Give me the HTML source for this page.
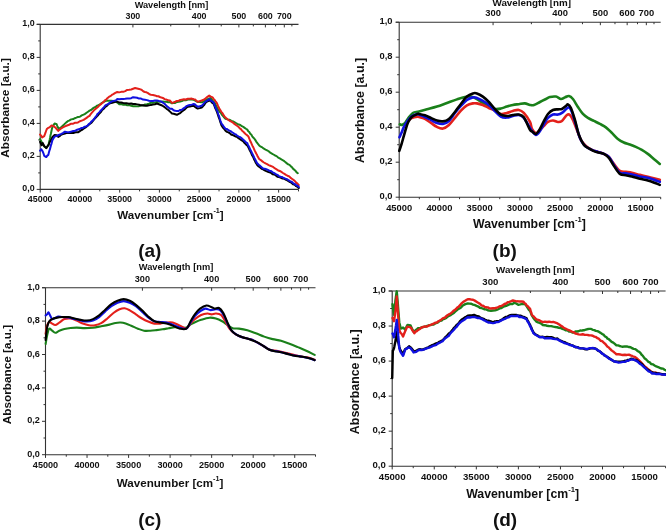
<!DOCTYPE html>
<html><head><meta charset="utf-8"><style>
html,body{margin:0;padding:0;background:#fff;}
svg{display:block;filter:blur(0.3px);font-family:"Liberation Sans",sans-serif;font-weight:bold;}
</style></head><body>
<svg width="666" height="531" viewBox="0 0 666 531">
<rect width="666" height="531" fill="#fff"/>
<path d="M40.20 24.40V189.40M39.70 189.40H298.50M36.70 24.40H298.50" stroke="#333" stroke-width="1.1" fill="none"/>
<path d="M36.70 189.40H40.20M38.20 172.90H40.20M36.70 156.40H40.20M38.20 139.90H40.20M36.70 123.40H40.20M38.20 106.90H40.20M36.70 90.40H40.20M38.20 73.90H40.20M36.70 57.40H40.20M38.20 40.90H40.20M36.70 24.40H40.20M40.20 189.40V192.60M60.07 189.40V191.40M79.94 189.40V192.60M99.81 189.40V191.40M119.68 189.40V192.60M139.55 189.40V191.40M159.42 189.40V192.60M179.28 189.40V191.40M199.15 189.40V192.60M219.02 189.40V191.40M238.89 189.40V192.60M258.76 189.40V191.40M278.63 189.40V192.60M298.50 189.40V191.40M132.92 24.40V27.40M170.77 24.40V26.40M199.15 24.40V27.40M221.23 24.40V26.40M238.89 24.40V27.40M253.34 24.40V26.40M265.38 24.40V27.40M275.57 24.40V26.40M284.31 24.40V27.40M291.88 24.40V26.40" stroke="#333" stroke-width="1" fill="none"/>
<g font-size="8.9" fill="#111"><text x="34.60" y="191.40" text-anchor="end">0,0</text><text x="34.60" y="158.40" text-anchor="end">0,2</text><text x="34.60" y="125.40" text-anchor="end">0,4</text><text x="34.60" y="92.40" text-anchor="end">0,6</text><text x="34.60" y="59.40" text-anchor="end">0,8</text><text x="34.60" y="26.40" text-anchor="end">1,0</text><text x="40.20" y="202.00" text-anchor="middle">45000</text><text x="79.94" y="202.00" text-anchor="middle">40000</text><text x="119.68" y="202.00" text-anchor="middle">35000</text><text x="159.42" y="202.00" text-anchor="middle">30000</text><text x="199.15" y="202.00" text-anchor="middle">25000</text><text x="238.89" y="202.00" text-anchor="middle">20000</text><text x="278.63" y="202.00" text-anchor="middle">15000</text><text x="132.92" y="18.90" text-anchor="middle">300</text><text x="199.15" y="18.90" text-anchor="middle">400</text><text x="238.89" y="18.90" text-anchor="middle">500</text><text x="265.38" y="18.90" text-anchor="middle">600</text><text x="284.31" y="18.90" text-anchor="middle">700</text></g>
<text x="171.50" y="7.80" font-size="9.2" text-anchor="middle" fill="#111">Wavelength [nm]</text>
<text x="117.20" y="218.60" font-size="11.6" fill="#111">Wavenumber [cm<tspan font-size="7.19" dy="-5.80">-1</tspan><tspan dy="5.80">]</tspan></text>
<text transform="translate(8.70 108.00) rotate(-90)" font-size="11.8" text-anchor="middle" fill="#111">Absorbance [a.u.]</text>
<text x="138.20" y="257.30" font-size="19" fill="#111">(a)</text>
<path d="M399.20 22.20V197.20M398.70 197.20H660.70M395.70 22.20H660.70" stroke="#333" stroke-width="1.1" fill="none"/>
<path d="M395.70 197.20H399.20M397.20 179.70H399.20M395.70 162.20H399.20M397.20 144.70H399.20M395.70 127.20H399.20M397.20 109.70H399.20M395.70 92.20H399.20M397.20 74.70H399.20M395.70 57.20H399.20M397.20 39.70H399.20M395.70 22.20H399.20M399.20 197.20V200.40M419.32 197.20V199.20M439.43 197.20V200.40M459.55 197.20V199.20M479.66 197.20V200.40M499.78 197.20V199.20M519.89 197.20V200.40M540.01 197.20V199.20M560.12 197.20V200.40M580.24 197.20V199.20M600.35 197.20V200.40M620.47 197.20V199.20M640.58 197.20V200.40M660.70 197.20V199.20M493.07 22.20V25.20M531.39 22.20V24.20M560.12 22.20V25.20M582.47 22.20V24.20M600.35 22.20V25.20M614.98 22.20V24.20M627.17 22.20V25.20M637.49 22.20V24.20M646.33 22.20V25.20M653.99 22.20V24.20" stroke="#333" stroke-width="1" fill="none"/>
<g font-size="9.4" fill="#111"><text x="392.60" y="199.38" text-anchor="end">0,0</text><text x="392.60" y="164.38" text-anchor="end">0,2</text><text x="392.60" y="129.38" text-anchor="end">0,4</text><text x="392.60" y="94.38" text-anchor="end">0,6</text><text x="392.60" y="59.38" text-anchor="end">0,8</text><text x="392.60" y="24.38" text-anchor="end">1,0</text><text x="399.20" y="210.50" text-anchor="middle">45000</text><text x="439.43" y="210.50" text-anchor="middle">40000</text><text x="479.66" y="210.50" text-anchor="middle">35000</text><text x="519.89" y="210.50" text-anchor="middle">30000</text><text x="560.12" y="210.50" text-anchor="middle">25000</text><text x="600.35" y="210.50" text-anchor="middle">20000</text><text x="640.58" y="210.50" text-anchor="middle">15000</text><text x="493.07" y="16.40" text-anchor="middle">300</text><text x="560.12" y="16.40" text-anchor="middle">400</text><text x="600.35" y="16.40" text-anchor="middle">500</text><text x="627.17" y="16.40" text-anchor="middle">600</text><text x="646.33" y="16.40" text-anchor="middle">700</text></g>
<text x="531.80" y="5.90" font-size="9.8" text-anchor="middle" fill="#111">Wavelength [nm]</text>
<text x="473.00" y="228.40" font-size="12.3" fill="#111">Wavenumber [cm<tspan font-size="7.63" dy="-6.15">-1</tspan><tspan dy="6.15">]</tspan></text>
<text transform="translate(363.80 110.40) rotate(-90)" font-size="12.45" text-anchor="middle" fill="#111">Absorbance [a.u.]</text>
<text x="492.60" y="257.20" font-size="19" fill="#111">(b)</text>
<path d="M45.50 287.70V454.70M45.00 454.70H315.50M42.00 287.70H315.50" stroke="#333" stroke-width="1.1" fill="none"/>
<path d="M42.00 454.70H45.50M43.50 438.00H45.50M42.00 421.30H45.50M43.50 404.60H45.50M42.00 387.90H45.50M43.50 371.20H45.50M42.00 354.50H45.50M43.50 337.80H45.50M42.00 321.10H45.50M43.50 304.40H45.50M42.00 287.70H45.50M45.50 454.70V457.90M66.27 454.70V456.70M87.04 454.70V457.90M107.81 454.70V456.70M128.58 454.70V457.90M149.35 454.70V456.70M170.12 454.70V457.90M190.88 454.70V456.70M211.65 454.70V457.90M232.42 454.70V456.70M253.19 454.70V457.90M273.96 454.70V456.70M294.73 454.70V457.90M315.50 454.70V456.70M142.42 287.70V290.70M181.98 287.70V289.70M211.65 287.70V290.70M234.73 287.70V289.70M253.19 287.70V290.70M268.30 287.70V289.70M280.88 287.70V290.70M291.54 287.70V289.70M300.66 287.70V290.70M308.58 287.70V289.70" stroke="#333" stroke-width="1" fill="none"/>
<g font-size="9.1" fill="#111"><text x="39.80" y="456.78" text-anchor="end">0,0</text><text x="39.80" y="423.38" text-anchor="end">0,2</text><text x="39.80" y="389.98" text-anchor="end">0,4</text><text x="39.80" y="356.58" text-anchor="end">0,6</text><text x="39.80" y="323.18" text-anchor="end">0,8</text><text x="39.80" y="289.78" text-anchor="end">1,0</text><text x="45.50" y="468.00" text-anchor="middle">45000</text><text x="87.04" y="468.00" text-anchor="middle">40000</text><text x="128.58" y="468.00" text-anchor="middle">35000</text><text x="170.12" y="468.00" text-anchor="middle">30000</text><text x="211.65" y="468.00" text-anchor="middle">25000</text><text x="253.19" y="468.00" text-anchor="middle">20000</text><text x="294.73" y="468.00" text-anchor="middle">15000</text><text x="142.42" y="282.20" text-anchor="middle">300</text><text x="211.65" y="282.20" text-anchor="middle">400</text><text x="253.19" y="282.20" text-anchor="middle">500</text><text x="280.88" y="282.20" text-anchor="middle">600</text><text x="300.66" y="282.20" text-anchor="middle">700</text></g>
<text x="176.00" y="270.20" font-size="9.3" text-anchor="middle" fill="#111">Wavelength [nm]</text>
<text x="116.80" y="487.00" font-size="11.6" fill="#111">Wavenumber [cm<tspan font-size="7.19" dy="-5.80">-1</tspan><tspan dy="5.80">]</tspan></text>
<text transform="translate(10.90 374.50) rotate(-90)" font-size="11.75" text-anchor="middle" fill="#111">Absorbance [a.u.]</text>
<text x="138.20" y="526.10" font-size="19" fill="#111">(c)</text>
<path d="M392.20 291.00V466.20M391.70 466.20H665.60M388.70 291.00H665.60" stroke="#333" stroke-width="1.1" fill="none"/>
<path d="M388.70 466.20H392.20M390.20 448.68H392.20M388.70 431.16H392.20M390.20 413.64H392.20M388.70 396.12H392.20M390.20 378.60H392.20M388.70 361.08H392.20M390.20 343.56H392.20M388.70 326.04H392.20M390.20 308.52H392.20M388.70 291.00H392.20M392.20 466.20V469.40M413.23 466.20V468.20M434.26 466.20V469.40M455.29 466.20V468.20M476.32 466.20V469.40M497.35 466.20V468.20M518.38 466.20V469.40M539.42 466.20V468.20M560.45 466.20V469.40M581.48 466.20V468.20M602.51 466.20V469.40M623.54 466.20V468.20M644.57 466.20V469.40M665.60 466.20V468.20M490.34 291.00V294.00M530.40 291.00V293.00M560.45 291.00V294.00M583.81 291.00V293.00M602.51 291.00V294.00M617.80 291.00V293.00M630.55 291.00V294.00M641.33 291.00V293.00M650.58 291.00V294.00M658.59 291.00V293.00" stroke="#333" stroke-width="1" fill="none"/>
<g font-size="9.6" fill="#111"><text x="385.80" y="468.46" text-anchor="end">0,0</text><text x="385.80" y="433.42" text-anchor="end">0,2</text><text x="385.80" y="398.38" text-anchor="end">0,4</text><text x="385.80" y="363.34" text-anchor="end">0,6</text><text x="385.80" y="328.30" text-anchor="end">0,8</text><text x="385.80" y="293.26" text-anchor="end">1,0</text><text x="392.20" y="480.10" text-anchor="middle">45000</text><text x="434.26" y="480.10" text-anchor="middle">40000</text><text x="476.32" y="480.10" text-anchor="middle">35000</text><text x="518.38" y="480.10" text-anchor="middle">30000</text><text x="560.45" y="480.10" text-anchor="middle">25000</text><text x="602.51" y="480.10" text-anchor="middle">20000</text><text x="644.57" y="480.10" text-anchor="middle">15000</text><text x="490.34" y="284.70" text-anchor="middle">300</text><text x="560.45" y="284.70" text-anchor="middle">400</text><text x="602.51" y="284.70" text-anchor="middle">500</text><text x="630.55" y="284.70" text-anchor="middle">600</text><text x="650.58" y="284.70" text-anchor="middle">700</text></g>
<text x="535.30" y="272.60" font-size="9.8" text-anchor="middle" fill="#111">Wavelength [nm]</text>
<text x="466.20" y="498.00" font-size="12.3" fill="#111">Wavenumber [cm<tspan font-size="7.63" dy="-6.15">-1</tspan><tspan dy="6.15">]</tspan></text>
<text transform="translate(359.00 381.80) rotate(-90)" font-size="12.4" text-anchor="middle" fill="#111">Absorbance [a.u.]</text>
<text x="492.90" y="526.10" font-size="19" fill="#111">(d)</text>
<polyline points="40.07,139.16 41.11,140.84 42.15,142.91 43.18,144.85 44.22,146.54 46.29,148.02 47.33,146.60 48.36,145.15 48.78,143.50 49.19,141.58 49.61,139.90 50.02,137.94 50.44,135.61 50.85,133.98 51.26,131.93 51.68,130.01 52.09,128.30 52.51,126.79 53.54,125.12 54.58,123.41 56.65,124.23 57.34,126.07 58.03,127.53 58.73,128.94 60.80,127.52 62.18,126.40 63.56,125.09 64.94,123.64 66.32,122.36 67.71,121.21 69.09,120.60 71.16,119.37 73.23,119.11 74.82,118.20 76.41,117.66 78.00,116.95 79.86,116.71 81.72,115.41 83.59,114.64 85.07,113.86 86.56,112.77 88.05,111.72 89.53,110.68 91.02,110.04 92.50,108.66 93.99,107.65 95.48,106.97 96.96,105.62 98.45,105.09 99.94,104.39 101.42,103.19 103.08,102.30 104.73,101.37 106.38,100.78 108.03,100.87 109.68,100.87 111.33,100.84 113.32,100.97 115.30,101.67 117.28,102.50 119.26,104.14 121.24,104.06 123.23,104.71 125.21,104.65 127.19,105.26 129.17,105.17 131.15,105.83 133.14,106.19 135.12,106.16 137.10,106.37 139.08,106.17 141.06,105.44 143.05,105.55 145.03,104.47 147.01,104.22 148.99,103.64 150.97,102.77 152.95,102.77 154.94,102.56 156.92,101.90 158.90,101.63 160.88,101.74 162.71,101.61 164.53,101.80 166.35,101.73 168.18,102.21 170.00,102.09 171.96,103.37 173.62,102.80 175.27,102.89 176.92,101.97 178.57,101.65 180.22,101.46 181.87,101.11 183.86,100.19 185.84,100.25 187.82,99.47 189.80,99.56 191.78,99.61 193.77,99.82 195.75,100.93 197.73,102.12 199.38,101.82 201.03,102.23 202.68,101.98 204.34,101.09 205.99,99.79 207.64,99.16 210.61,98.05 211.93,99.62 213.26,101.41 214.58,102.78 215.40,104.20 216.23,105.89 217.05,107.37 217.88,109.04 218.71,110.13 219.53,111.78 220.72,112.81 221.91,114.83 223.10,116.08 224.29,117.51 225.48,118.77 227.46,119.37 229.44,119.69 231.42,120.83 232.91,121.31 234.40,122.12 235.88,123.01 237.37,123.88 238.86,124.57 240.34,125.01 241.83,126.21 243.32,126.91 244.64,127.84 245.96,128.77 247.28,129.65 248.27,131.21 249.26,131.98 250.25,133.79 251.24,134.59 252.23,136.34 253.23,137.62 254.22,138.50 255.21,139.89 256.20,141.53 257.19,142.86 258.18,144.22 259.17,145.46 260.76,146.70 262.34,147.40 263.93,148.71 265.51,149.59 267.10,150.34 268.68,151.25 270.27,152.71 271.86,153.58 273.44,154.51 275.03,155.47 276.61,156.10 278.20,157.65 279.78,158.45 281.37,159.46 282.95,160.29 284.28,161.19 285.60,162.19 286.92,163.39 288.24,164.34 289.56,164.94 290.88,166.37 292.04,167.29 293.20,168.88 294.35,169.86 295.51,170.79 296.66,172.35 297.82,173.19" stroke="#1a801a" stroke-width="2.0" fill="none" stroke-linejoin="round" stroke-linecap="round"/>
<polyline points="40.07,134.45 41.11,135.57 42.15,137.52 44.22,136.06 44.87,134.38 45.51,132.72 46.16,130.76 46.81,129.09 48.10,127.95 49.40,127.38 51.47,125.54 53.54,126.17 55.62,127.75 56.91,129.34 58.21,130.87 59.50,129.73 60.80,128.71 62.87,127.43 64.94,126.36 67.02,125.50 69.09,124.76 71.16,123.68 73.23,123.65 74.82,122.84 76.41,122.64 78.00,122.44 79.86,121.26 81.72,120.57 83.59,119.86 85.07,118.90 86.56,117.88 88.05,116.67 89.53,115.86 90.72,114.04 91.91,112.67 93.10,111.42 94.29,109.98 95.48,108.96 96.96,107.72 98.45,106.43 99.94,104.86 101.42,103.86 102.61,102.60 103.80,101.73 104.99,100.26 106.18,99.72 107.37,98.21 108.86,96.95 110.34,96.17 111.83,94.99 113.32,94.19 115.30,92.93 117.28,91.99 119.26,92.36 121.24,91.85 123.23,91.85 125.21,91.10 127.19,89.93 129.17,89.83 131.15,89.46 133.14,88.73 135.12,88.02 137.10,88.50 139.08,88.96 140.57,89.39 142.05,90.24 143.54,91.48 145.03,92.03 146.51,92.35 148.00,93.12 149.49,94.31 150.97,94.74 152.95,94.93 154.94,95.44 156.92,96.20 158.41,96.26 159.89,96.98 161.38,97.57 162.86,97.93 164.65,99.11 166.43,99.59 168.22,100.28 170.00,100.58 171.96,102.80 173.62,102.44 175.27,101.75 176.92,100.94 178.57,100.84 180.22,99.96 181.87,99.62 183.86,99.26 185.84,99.46 187.82,98.82 189.80,98.71 191.78,98.60 193.77,99.17 195.09,99.51 196.41,100.68 197.73,101.79 199.71,101.09 201.69,100.55 203.68,99.77 205.66,98.36 207.44,96.86 209.23,95.57 210.91,96.58 212.59,97.42 213.59,98.89 214.58,99.85 215.57,101.26 216.56,102.58 217.35,104.11 218.14,106.05 218.94,107.76 219.73,109.36 220.52,110.42 221.51,112.06 222.50,113.21 223.50,114.86 224.49,116.32 225.48,117.54 226.96,118.72 228.45,119.98 229.94,121.01 231.42,121.70 232.91,122.60 234.40,123.88 235.88,124.93 237.37,126.06 238.56,126.92 239.75,128.36 240.94,129.15 242.13,130.77 243.32,131.69 244.55,133.12 245.79,134.22 247.03,135.13 248.27,136.21 248.98,137.96 249.69,139.62 250.39,141.39 251.10,142.57 251.81,144.30 252.52,145.97 253.23,147.14 253.97,148.80 254.71,150.63 255.45,151.95 256.20,153.51 256.94,154.73 257.68,156.55 258.43,157.67 259.17,159.03 260.76,160.08 262.34,161.39 263.93,162.50 265.51,163.43 267.10,164.21 268.68,165.13 270.27,165.76 271.86,166.39 273.44,167.22 275.03,168.48 276.61,169.37 278.20,170.46 279.78,170.95 281.37,171.93 282.95,173.00 284.44,173.88 285.93,174.86 287.41,175.72 288.90,176.17 290.39,177.59 291.87,178.69 293.36,179.75 294.85,181.00 296.17,182.70 297.49,183.60 298.81,185.08" stroke="#e3201b" stroke-width="2.0" fill="none" stroke-linejoin="round" stroke-linecap="round"/>
<polyline points="40.07,141.88 40.85,143.65 41.63,145.24 42.66,142.98 44.22,146.03 46.29,148.14 47.33,146.42 48.36,145.28 49.40,142.86 50.44,140.88 51.47,139.17 52.51,136.88 54.58,134.91 56.65,135.15 58.21,136.94 59.50,136.16 60.80,134.95 62.87,134.00 64.94,133.49 67.02,132.91 69.09,132.90 71.16,132.71 73.23,132.93 75.62,132.21 78.00,132.35 79.51,131.41 81.03,130.24 82.54,129.51 84.05,128.26 85.57,127.41 87.05,126.20 88.54,124.93 90.03,123.75 91.51,122.61 92.70,121.07 93.89,119.54 95.08,118.37 96.27,117.08 97.46,115.89 98.65,114.40 99.84,113.17 101.03,111.80 102.22,110.00 103.41,109.06 104.89,107.29 106.38,106.25 107.86,104.74 109.35,103.54 110.84,102.99 112.32,102.67 113.81,102.32 115.30,101.76 117.28,101.65 119.26,102.62 121.24,102.59 123.23,103.02 125.21,103.26 127.19,103.37 129.17,103.84 131.15,103.42 133.14,104.01 135.12,104.10 137.10,104.37 139.08,104.70 141.06,105.37 143.05,105.28 145.03,105.78 147.01,105.64 148.99,105.36 150.97,104.90 152.95,104.51 154.94,104.21 156.92,103.48 158.90,104.24 160.88,105.01 162.86,105.96 164.29,106.92 165.72,108.04 167.15,109.29 168.57,110.28 170.00,111.64 171.96,113.49 173.62,113.75 175.27,114.27 176.92,114.78 178.57,113.92 180.22,113.03 181.87,111.46 183.36,110.33 184.85,109.36 186.33,107.76 187.82,106.82 189.80,106.62 191.78,105.99 193.77,105.82 195.09,106.99 196.41,107.82 197.73,108.61 199.71,108.11 201.69,107.46 203.02,106.17 204.34,104.71 205.66,102.54 207.64,101.26 209.62,100.32 210.94,101.25 212.26,102.83 213.59,103.76 214.25,105.23 214.91,107.31 215.57,108.72 216.23,110.19 216.89,111.75 217.55,113.75 218.12,115.38 218.68,117.10 219.25,118.54 219.81,120.27 220.38,122.08 220.95,123.67 221.51,125.54 222.83,127.45 224.16,128.84 225.48,130.71 226.96,131.89 228.45,132.40 229.94,133.29 231.42,134.78 232.91,135.04 234.40,135.77 235.88,136.62 237.37,137.17 238.86,138.47 240.34,139.38 241.83,140.37 243.32,141.29 244.64,143.09 245.96,144.39 247.28,145.55 248.07,146.84 248.86,148.38 249.66,150.15 250.45,151.50 251.24,153.15 251.99,155.15 252.73,156.21 253.47,157.66 254.22,159.65 254.96,160.79 255.70,162.64 256.45,163.71 257.19,165.00 258.68,166.45 260.16,167.46 261.65,168.84 263.14,169.36 264.72,170.43 266.31,171.18 267.89,171.76 269.48,172.38 271.06,172.88 272.65,174.27 274.23,174.48 275.82,175.37 277.41,176.70 278.99,177.04 280.58,177.58 282.16,178.51 283.75,178.61 285.33,179.50 286.92,180.06 288.50,181.08 290.09,182.14 291.68,182.90 293.26,184.40 294.85,184.85 296.17,186.20 297.49,186.77 298.81,188.05" stroke="#000000" stroke-width="2.0" fill="none" stroke-linejoin="round" stroke-linecap="round"/>
<polyline points="40.07,150.72 41.11,149.20 42.66,151.38 43.44,153.27 44.22,155.79 46.29,157.06 47.33,155.65 48.36,154.87 48.88,152.45 49.40,150.67 49.92,149.39 50.44,147.20 50.95,145.18 51.47,143.81 51.99,141.66 52.51,140.06 53.54,138.21 54.58,136.60 56.65,135.97 58.73,135.00 60.80,134.09 62.87,133.12 64.94,131.68 67.02,132.13 69.09,132.29 71.16,131.62 73.23,131.00 74.82,130.99 76.41,130.07 78.00,129.52 79.59,129.01 81.18,128.06 82.77,127.99 84.37,126.84 85.96,126.50 87.55,125.65 88.74,124.20 89.93,123.47 91.12,121.84 92.31,120.80 93.50,119.68 94.49,118.43 95.48,116.96 96.47,115.93 97.46,114.08 98.45,113.14 99.44,112.08 100.63,110.66 101.82,109.52 103.01,108.09 104.20,106.90 105.39,105.46 106.87,104.66 108.36,103.79 109.85,102.72 111.33,101.65 112.82,101.10 114.31,100.64 115.79,100.40 117.28,99.11 119.26,99.15 121.24,99.01 123.23,98.96 125.21,98.82 127.19,98.56 129.17,98.48 131.15,98.16 133.14,97.14 135.12,97.44 137.10,97.74 139.08,98.60 141.06,98.56 143.05,99.53 145.03,99.81 147.01,100.13 148.99,100.70 150.97,101.12 152.95,100.97 154.94,100.56 156.92,100.40 158.90,100.95 160.88,101.39 162.86,102.54 164.05,103.54 165.24,104.37 166.43,105.83 167.62,106.73 168.81,107.78 170.00,108.80 171.96,108.85 173.62,110.20 175.27,110.78 176.92,111.01 178.57,111.04 180.22,109.94 181.87,109.82 183.36,108.46 184.85,107.67 186.33,106.17 187.82,105.55 189.80,105.04 191.78,104.64 193.77,104.04 195.09,104.50 196.41,105.92 197.73,106.71 199.71,106.26 201.69,105.73 203.02,104.46 204.34,102.87 205.66,101.61 207.64,100.46 209.62,99.18 210.94,100.86 212.26,101.41 213.59,102.60 214.25,104.17 214.91,106.11 215.57,107.49 216.23,109.00 216.89,110.52 217.55,111.67 218.12,113.77 218.68,115.45 219.25,116.67 219.81,118.71 220.38,120.53 220.95,122.02 221.51,123.51 222.83,125.16 224.16,127.29 225.48,128.74 226.96,129.01 228.45,130.24 229.94,130.81 231.42,131.72 232.91,132.71 234.40,133.85 235.88,134.41 237.37,135.88 238.86,136.68 240.34,137.22 241.83,138.40 243.32,139.80 244.64,141.02 245.96,142.40 247.28,143.18 248.07,145.19 248.86,146.39 249.66,148.11 250.45,150.09 251.24,151.29 251.99,152.99 252.73,154.45 253.47,155.87 254.22,157.63 254.96,159.02 255.70,160.39 256.45,162.05 257.19,163.33 258.68,164.77 260.16,165.86 261.65,167.24 263.14,168.54 264.72,168.76 266.31,169.21 267.89,169.84 269.48,170.94 271.06,171.05 272.65,172.23 274.23,173.20 275.82,174.16 277.41,174.85 278.99,176.26 280.58,176.77 282.16,177.04 283.75,178.00 285.33,178.57 286.92,179.17 288.50,180.26 290.09,181.09 291.68,181.83 293.26,183.34 294.85,183.99 296.17,185.32 297.49,185.75 298.81,187.06" stroke="#1010e0" stroke-width="2.0" fill="none" stroke-linejoin="round" stroke-linecap="round"/>
<path d="M399.82 124.29C400.20 124.39 401.24 125.05 402.08 124.86C402.93 124.67 403.87 124.29 404.91 123.16C405.95 122.03 406.98 119.77 408.30 118.08C409.62 116.38 411.31 114.03 412.82 112.99C414.33 111.96 416.31 112.10 417.34 111.86C418.36 111.63 417.36 111.98 418.97 111.56C420.57 111.14 423.96 110.20 426.95 109.36C429.95 108.53 433.61 107.63 436.94 106.57C440.27 105.50 443.60 104.17 446.92 102.97C450.25 101.77 453.91 100.38 456.91 99.38C459.91 98.38 462.57 97.45 464.90 96.98C467.23 96.52 468.89 96.25 470.89 96.58C472.89 96.92 474.88 97.91 476.88 98.98C478.88 100.04 480.87 101.81 482.87 102.97C484.87 104.14 486.86 104.97 488.86 105.97C490.86 106.97 492.86 108.53 494.85 108.96C496.85 109.40 498.85 108.96 500.84 108.56C502.84 108.17 504.84 107.17 506.83 106.57C508.83 105.97 510.83 105.37 512.83 104.97C514.82 104.57 516.82 104.44 518.82 104.17C520.81 103.90 522.94 103.24 524.81 103.37C526.67 103.51 528.47 104.70 530.00 104.97C531.53 105.24 532.33 105.47 533.99 104.97C535.65 104.47 537.98 102.97 539.98 101.97C541.98 100.98 544.31 99.81 545.97 98.98C547.64 98.15 548.30 97.38 549.97 96.98C551.63 96.58 554.13 96.25 555.96 96.58C557.79 96.92 559.45 98.85 560.95 98.98C562.45 99.11 563.61 97.88 564.94 97.38C566.28 96.88 567.61 95.72 568.94 95.98C570.27 96.25 571.43 97.15 572.93 98.98C574.43 100.81 576.26 104.47 577.92 106.97C579.59 109.46 581.25 112.13 582.92 113.96C584.58 115.79 586.08 116.79 587.91 117.95C589.74 119.12 591.90 119.95 593.90 120.95C595.90 121.94 597.89 122.88 599.89 123.94C601.89 125.01 603.89 125.84 605.88 127.34C607.88 128.83 609.88 131.00 611.87 132.93C613.87 134.86 615.87 137.32 617.86 138.92C619.86 140.52 621.86 141.58 623.86 142.51C625.85 143.45 627.85 143.78 629.85 144.51C631.84 145.24 633.84 146.01 635.84 146.91C637.83 147.81 639.83 148.74 641.83 149.90C643.83 151.07 645.82 152.40 647.82 153.90C649.82 155.39 651.81 157.22 653.81 158.89C655.81 160.55 658.80 163.05 659.80 163.88" stroke="#1a801a" stroke-width="2.6" fill="none" stroke-linejoin="round" stroke-linecap="round"/>
<path d="M409.43 119.77C409.81 119.49 410.37 118.59 411.69 118.08C413.01 117.57 416.13 116.91 417.34 116.72C418.55 116.54 417.70 116.58 418.97 116.95C420.24 117.32 422.96 117.95 424.96 118.95C426.95 119.95 428.95 121.61 430.95 122.94C432.95 124.27 434.94 126.01 436.94 126.94C438.94 127.87 440.93 128.87 442.93 128.53C444.93 128.20 446.92 126.70 448.92 124.94C450.92 123.18 452.92 120.35 454.91 117.95C456.91 115.55 458.91 112.66 460.90 110.56C462.90 108.46 464.90 106.57 466.89 105.37C468.89 104.17 471.22 103.71 472.89 103.37C474.55 103.04 475.22 103.11 476.88 103.37C478.54 103.64 480.87 104.20 482.87 104.97C484.87 105.74 486.86 107.03 488.86 107.97C490.86 108.90 492.86 109.56 494.85 110.56C496.85 111.56 498.85 113.56 500.84 113.96C502.84 114.36 504.84 113.46 506.83 112.96C508.83 112.46 510.83 111.46 512.83 110.96C514.82 110.46 516.99 109.63 518.82 109.96C520.65 110.30 521.95 110.96 523.81 112.96C525.67 114.95 528.64 119.28 530.00 121.94C531.36 124.61 531.00 127.10 531.99 128.93C532.99 130.76 534.66 132.76 535.99 132.93C537.32 133.09 538.65 131.10 539.98 129.93C541.31 128.77 542.64 127.27 543.98 125.94C545.31 124.61 546.47 122.84 547.97 121.94C549.47 121.05 551.30 120.55 552.96 120.55C554.63 120.55 556.46 121.88 557.95 121.94C559.45 122.01 560.45 122.11 561.95 120.95C563.45 119.78 565.61 115.95 566.94 114.95C568.27 113.96 568.94 114.12 569.94 114.95C570.94 115.79 571.77 117.45 572.93 119.95C574.10 122.44 575.60 126.60 576.93 129.93C578.26 133.26 579.42 137.25 580.92 139.92C582.42 142.58 584.08 144.24 585.91 145.91C587.74 147.57 589.91 148.90 591.90 149.90C593.90 150.90 595.90 151.23 597.89 151.90C599.89 152.57 602.06 153.06 603.89 153.90C605.72 154.73 607.21 155.23 608.88 156.89C610.54 158.56 612.04 161.55 613.87 163.88C615.70 166.21 617.86 169.54 619.86 170.87C621.86 172.20 623.86 171.54 625.85 171.87C627.85 172.20 629.51 172.37 631.84 172.87C634.17 173.37 637.17 174.20 639.83 174.86C642.49 175.53 645.16 176.20 647.82 176.86C650.48 177.53 653.81 178.36 655.81 178.86C657.80 179.36 659.14 179.69 659.80 179.86" stroke="#e3201b" stroke-width="2.6" fill="none" stroke-linejoin="round" stroke-linecap="round"/>
<path d="M399.49 137.29C399.82 136.53 400.80 134.46 401.52 132.77C402.24 131.07 402.84 129.00 403.78 127.12C404.72 125.24 405.85 123.26 407.17 121.47C408.49 119.68 409.99 117.61 411.69 116.38C413.38 115.16 416.13 114.43 417.34 114.12C418.55 113.82 417.70 114.08 418.97 114.56C420.24 115.03 422.96 116.05 424.96 116.95C426.95 117.85 428.95 118.95 430.95 119.95C432.95 120.95 434.94 122.28 436.94 122.94C438.94 123.61 440.93 124.27 442.93 123.94C444.93 123.61 446.92 122.78 448.92 120.95C450.92 119.12 452.92 115.45 454.91 112.96C456.91 110.46 458.91 108.13 460.90 105.97C462.90 103.81 464.90 101.41 466.89 99.98C468.89 98.55 471.22 97.71 472.89 97.38C474.55 97.05 475.22 97.38 476.88 97.98C478.54 98.58 480.87 99.81 482.87 100.98C484.87 102.14 486.86 103.31 488.86 104.97C490.86 106.63 492.86 109.03 494.85 110.96C496.85 112.89 498.85 115.45 500.84 116.55C502.84 117.65 504.84 117.65 506.83 117.55C508.83 117.45 510.83 116.39 512.83 115.95C514.82 115.52 516.99 114.62 518.82 114.95C520.65 115.29 521.95 115.79 523.81 117.95C525.67 120.11 528.64 125.77 530.00 127.94C531.36 130.10 531.00 129.77 531.99 130.93C532.99 132.10 534.66 134.92 535.99 134.92C537.32 134.92 538.65 132.76 539.98 130.93C541.31 129.10 542.64 126.10 543.98 123.94C545.31 121.78 546.47 119.51 547.97 117.95C549.47 116.39 551.30 115.12 552.96 114.56C554.63 113.99 556.46 114.82 557.95 114.56C559.45 114.29 560.62 113.82 561.95 112.96C563.28 112.09 564.78 110.30 565.94 109.36C567.11 108.43 567.94 106.93 568.94 107.37C569.94 107.80 570.77 109.03 571.93 111.96C573.10 114.89 574.60 120.61 575.93 124.94C577.26 129.27 578.42 134.43 579.92 137.92C581.42 141.42 582.92 143.91 584.91 145.91C586.91 147.91 589.74 148.90 591.90 149.90C594.07 150.90 595.90 151.23 597.89 151.90C599.89 152.57 602.06 153.06 603.89 153.90C605.72 154.73 607.21 155.06 608.88 156.89C610.54 158.72 612.04 162.22 613.87 164.88C615.70 167.54 617.86 171.47 619.86 172.87C621.86 174.27 623.86 173.00 625.85 173.27C627.85 173.53 629.51 173.93 631.84 174.47C634.17 175.00 637.17 175.90 639.83 176.46C642.49 177.03 645.16 177.19 647.82 177.86C650.48 178.53 653.81 179.79 655.81 180.46C657.80 181.12 659.14 181.62 659.80 181.85" stroke="#1010e0" stroke-width="2.6" fill="none" stroke-linejoin="round" stroke-linecap="round"/>
<path d="M399.26 150.85C399.64 149.72 400.77 146.52 401.52 144.07C402.27 141.62 403.03 138.79 403.78 136.16C404.53 133.52 405.29 130.60 406.04 128.25C406.79 125.89 407.36 123.92 408.30 122.03C409.24 120.15 410.18 118.27 411.69 116.95C413.20 115.63 416.13 114.62 417.34 114.12C418.55 113.63 417.70 113.75 418.97 113.96C420.24 114.16 422.96 114.69 424.96 115.35C426.95 116.02 428.95 117.09 430.95 117.95C432.95 118.82 434.94 119.98 436.94 120.55C438.94 121.11 440.93 121.61 442.93 121.35C444.93 121.08 446.92 120.51 448.92 118.95C450.92 117.38 452.92 114.46 454.91 111.96C456.91 109.46 458.91 106.53 460.90 103.97C462.90 101.41 464.90 98.35 466.89 96.58C468.89 94.82 471.22 93.92 472.89 93.39C474.55 92.85 475.22 92.85 476.88 93.39C478.54 93.92 480.87 95.15 482.87 96.58C484.87 98.01 486.86 99.91 488.86 101.97C490.86 104.04 492.86 106.87 494.85 108.96C496.85 111.06 498.85 113.39 500.84 114.56C502.84 115.72 504.84 115.89 506.83 115.95C508.83 116.02 510.83 115.19 512.83 114.95C514.82 114.72 516.99 114.16 518.82 114.56C520.65 114.95 521.95 114.79 523.81 117.35C525.67 119.91 528.64 127.60 530.00 129.93C531.36 132.26 531.00 130.66 531.99 131.33C532.99 132.00 534.66 134.33 535.99 133.93C537.32 133.53 538.65 131.10 539.98 128.93C541.31 126.77 542.64 123.44 543.98 120.95C545.31 118.45 546.47 115.79 547.97 113.96C549.47 112.13 551.30 110.73 552.96 109.96C554.63 109.20 556.46 109.53 557.95 109.36C559.45 109.20 560.62 109.53 561.95 108.96C563.28 108.40 564.94 106.73 565.94 105.97C566.94 105.20 567.11 104.04 567.94 104.37C568.77 104.70 569.77 105.37 570.94 107.97C572.10 110.56 573.60 115.45 574.93 119.95C576.26 124.44 577.43 130.76 578.92 134.92C580.42 139.09 582.09 142.58 583.92 144.91C585.75 147.24 587.91 147.74 589.91 148.90C591.90 150.07 593.57 151.07 595.90 151.90C598.23 152.73 601.72 152.90 603.89 153.90C606.05 154.89 607.21 155.89 608.88 157.89C610.54 159.89 612.04 163.22 613.87 165.88C615.70 168.54 617.86 172.30 619.86 173.87C621.86 175.43 623.86 174.83 625.85 175.26C627.85 175.70 629.51 175.86 631.84 176.46C634.17 177.06 637.17 178.19 639.83 178.86C642.49 179.52 645.16 179.72 647.82 180.46C650.48 181.19 653.81 182.52 655.81 183.25C657.80 183.98 659.14 184.58 659.80 184.85" stroke="#000000" stroke-width="2.6" fill="none" stroke-linejoin="round" stroke-linecap="round"/>
<path d="M45.63 344.01C45.87 342.65 46.48 338.39 47.06 335.84C47.64 333.29 48.25 329.54 49.11 328.69C49.96 327.84 51.15 330.06 52.17 330.74C53.19 331.42 54.04 332.78 55.23 332.78C56.42 332.78 57.78 331.35 59.32 330.74C60.85 330.12 62.55 329.54 64.42 329.10C66.29 328.66 68.50 328.32 70.55 328.08C72.59 327.84 74.29 327.67 76.67 327.67C79.06 327.67 82.12 328.08 84.84 328.08C87.56 328.08 90.29 327.98 93.01 327.67C95.73 327.37 98.45 326.75 101.18 326.24C103.90 325.73 106.96 325.15 109.35 324.61C111.73 324.07 113.60 323.32 115.47 322.98C117.34 322.64 118.87 322.47 120.58 322.57C122.28 322.67 123.81 323.01 125.68 323.59C127.55 324.17 129.77 325.19 131.81 326.04C133.85 326.89 135.89 327.91 137.93 328.69C139.98 329.48 142.02 330.40 144.06 330.74C146.10 331.08 148.14 330.84 150.19 330.74C152.23 330.63 154.27 330.36 156.31 330.12C158.35 329.88 160.40 329.61 162.44 329.31C164.48 329.00 166.52 328.63 168.56 328.29C170.61 327.94 172.78 327.37 174.69 327.26C176.60 327.16 178.05 327.62 180.00 327.67C181.95 327.73 184.64 328.12 186.41 327.58C188.18 327.04 189.21 325.31 190.61 324.43C192.01 323.55 193.07 323.10 194.82 322.33C196.57 321.56 198.67 320.58 201.12 319.80C203.58 319.03 207.08 317.91 209.53 317.70C211.98 317.49 213.74 317.95 215.84 318.54C217.94 319.14 220.22 320.23 222.14 321.28C224.07 322.33 225.65 323.69 227.40 324.85C229.15 326.01 230.73 327.58 232.65 328.21C234.58 328.84 236.51 328.28 238.96 328.63C241.41 328.98 244.57 329.54 247.37 330.32C250.17 331.09 252.97 332.21 255.78 333.26C258.58 334.31 261.38 335.64 264.19 336.62C266.99 337.60 269.79 338.44 272.59 339.14C275.40 339.84 278.20 340.06 281.00 340.83C283.81 341.60 286.61 342.72 289.41 343.77C292.21 344.82 295.02 345.98 297.82 347.13C300.62 348.29 303.43 349.41 306.23 350.71C309.03 352.00 313.24 354.21 314.64 354.91" stroke="#1a801a" stroke-width="2.1" fill="none" stroke-linejoin="round" stroke-linecap="round"/>
<path d="M45.63 333.80C45.87 332.44 46.48 327.60 47.06 325.63C47.64 323.66 48.25 322.30 49.11 321.95C49.96 321.61 51.15 323.08 52.17 323.59C53.19 324.10 54.04 325.19 55.23 325.02C56.42 324.85 57.78 323.55 59.32 322.57C60.85 321.58 62.55 319.78 64.42 319.10C66.29 318.42 68.50 318.25 70.55 318.48C72.59 318.72 74.63 319.67 76.67 320.53C78.71 321.38 80.76 322.81 82.80 323.59C84.84 324.37 86.88 324.95 88.92 325.22C90.97 325.49 93.01 325.56 95.05 325.22C97.09 324.88 99.14 324.30 101.18 323.18C103.22 322.06 105.26 320.19 107.30 318.48C109.35 316.78 111.39 314.50 113.43 312.97C115.47 311.44 117.68 310.08 119.56 309.29C121.43 308.51 122.96 308.10 124.66 308.27C126.36 308.44 127.89 309.29 129.77 310.32C131.64 311.34 133.85 313.04 135.89 314.40C137.93 315.76 139.98 317.29 142.02 318.48C144.06 319.67 146.10 320.70 148.14 321.55C150.19 322.40 152.23 323.25 154.27 323.59C156.31 323.93 158.35 323.76 160.40 323.59C162.44 323.42 164.48 322.74 166.52 322.57C168.56 322.40 170.40 322.06 172.65 322.57C174.89 323.08 177.71 324.69 180.00 325.63C182.29 326.57 184.64 328.59 186.41 328.21C188.18 327.84 189.21 324.88 190.61 323.38C192.01 321.87 193.07 320.58 194.82 319.17C196.57 317.77 199.02 315.92 201.12 314.97C203.23 314.02 205.68 313.60 207.43 313.50C209.18 313.39 210.23 314.34 211.63 314.34C213.04 314.34 214.26 313.39 215.84 313.50C217.41 313.60 219.52 313.67 221.09 314.97C222.67 316.27 223.90 319.00 225.30 321.28C226.70 323.55 228.10 326.71 229.50 328.63C230.90 330.56 232.13 331.61 233.71 332.84C235.28 334.06 237.03 335.12 238.96 335.99C240.89 336.87 243.17 337.50 245.27 338.09C247.37 338.69 249.47 338.76 251.57 339.56C253.68 340.37 255.78 341.77 257.88 342.93C259.98 344.08 262.08 345.31 264.19 346.50C266.29 347.69 268.39 349.37 270.49 350.08C272.59 350.78 274.70 350.36 276.80 350.71C278.90 351.06 280.65 351.58 283.11 352.18C285.56 352.77 288.71 353.58 291.51 354.28C294.32 354.98 297.12 355.82 299.92 356.38C302.72 356.94 305.88 357.08 308.33 357.64C310.78 358.20 313.59 359.39 314.64 359.74" stroke="#e3201b" stroke-width="2.1" fill="none" stroke-linejoin="round" stroke-linecap="round"/>
<path d="M45.63 315.42C45.87 315.25 46.59 314.91 47.06 314.40C47.54 313.89 47.98 312.19 48.49 312.36C49.00 312.53 49.51 314.30 50.13 315.42C50.74 316.54 51.32 318.69 52.17 319.10C53.02 319.50 54.21 318.31 55.23 317.87C56.25 317.43 57.10 316.58 58.29 316.44C59.49 316.31 60.68 316.88 62.38 317.05C64.08 317.22 66.46 317.12 68.50 317.46C70.55 317.80 72.59 318.59 74.63 319.10C76.67 319.61 78.71 320.12 80.76 320.53C82.80 320.93 84.84 321.55 86.88 321.55C88.92 321.55 90.97 321.27 93.01 320.53C95.05 319.78 97.09 318.59 99.14 317.05C101.18 315.52 103.22 313.14 105.26 311.34C107.30 309.53 109.35 307.66 111.39 306.23C113.43 304.80 115.47 303.61 117.51 302.76C119.56 301.91 121.60 301.13 123.64 301.13C125.68 301.13 127.72 301.91 129.77 302.76C131.81 303.61 133.85 304.73 135.89 306.23C137.93 307.73 139.98 309.87 142.02 311.74C144.06 313.62 146.10 315.90 148.14 317.46C150.19 319.03 152.23 320.39 154.27 321.14C156.31 321.89 158.35 321.72 160.40 321.95C162.44 322.19 164.48 322.13 166.52 322.57C168.56 323.01 170.40 323.76 172.65 324.61C174.89 325.46 177.71 327.00 180.00 327.67C182.29 328.34 184.64 329.52 186.41 328.63C188.18 327.74 189.21 324.43 190.61 322.33C192.01 320.23 193.24 317.84 194.82 316.02C196.39 314.20 198.32 312.62 200.07 311.40C201.82 310.17 203.58 308.87 205.33 308.66C207.08 308.45 208.83 310.03 210.58 310.14C212.33 310.24 214.26 309.29 215.84 309.29C217.41 309.29 218.64 309.01 220.04 310.14C221.44 311.26 222.84 313.46 224.25 316.02C225.65 318.58 227.05 322.85 228.45 325.48C229.85 328.11 230.90 330.04 232.65 331.79C234.41 333.54 236.86 334.94 238.96 335.99C241.06 337.04 243.17 337.50 245.27 338.09C247.37 338.69 249.47 338.76 251.57 339.56C253.68 340.37 255.78 341.77 257.88 342.93C259.98 344.08 262.08 345.31 264.19 346.50C266.29 347.69 268.39 349.27 270.49 350.08C272.59 350.88 274.70 350.88 276.80 351.34C278.90 351.79 280.65 352.21 283.11 352.81C285.56 353.40 288.71 354.31 291.51 354.91C294.32 355.51 297.12 355.86 299.92 356.38C302.72 356.91 305.88 357.43 308.33 358.06C310.78 358.69 313.59 359.81 314.64 360.17" stroke="#1010e0" stroke-width="2.1" fill="none" stroke-linejoin="round" stroke-linecap="round"/>
<path d="M45.63 339.92C45.87 337.88 46.48 330.74 47.06 327.67C47.64 324.61 48.25 322.98 49.11 321.55C49.96 320.12 50.98 319.71 52.17 319.10C53.36 318.48 54.55 318.21 56.25 317.87C57.95 317.53 60.34 317.19 62.38 317.05C64.42 316.92 66.46 316.82 68.50 317.05C70.55 317.29 72.59 318.01 74.63 318.48C76.67 318.96 78.71 319.57 80.76 319.91C82.80 320.25 84.84 320.66 86.88 320.53C88.92 320.39 90.97 319.95 93.01 319.10C95.05 318.25 97.09 316.99 99.14 315.42C101.18 313.85 103.22 311.57 105.26 309.70C107.30 307.83 109.35 305.69 111.39 304.19C113.43 302.69 115.47 301.57 117.51 300.72C119.56 299.87 121.60 299.08 123.64 299.08C125.68 299.08 127.72 299.76 129.77 300.72C131.81 301.67 133.85 303.20 135.89 304.80C137.93 306.40 139.98 308.38 142.02 310.32C144.06 312.26 146.10 314.64 148.14 316.44C150.19 318.25 152.23 320.12 154.27 321.14C156.31 322.16 158.35 322.16 160.40 322.57C162.44 322.98 164.48 323.08 166.52 323.59C168.56 324.10 170.40 324.78 172.65 325.63C174.89 326.48 177.71 328.19 180.00 328.69C182.29 329.19 184.64 329.87 186.41 328.63C188.18 327.40 189.21 323.66 190.61 321.28C192.01 318.89 193.24 316.44 194.82 314.34C196.39 312.24 198.15 310.14 200.07 308.66C202.00 307.19 204.45 305.76 206.38 305.51C208.31 305.27 210.23 306.67 211.63 307.19C213.04 307.72 213.56 308.52 214.79 308.66C216.01 308.80 217.59 307.33 218.99 308.03C220.39 308.73 221.79 310.49 223.20 312.87C224.60 315.25 226.00 319.35 227.40 322.33C228.80 325.31 230.03 328.63 231.60 330.74C233.18 332.84 234.93 333.82 236.86 334.94C238.79 336.06 241.06 336.76 243.17 337.46C245.27 338.16 247.37 338.44 249.47 339.14C251.57 339.84 253.68 340.69 255.78 341.67C257.88 342.65 259.98 343.77 262.08 345.03C264.19 346.29 266.29 348.18 268.39 349.23C270.49 350.29 272.59 350.85 274.70 351.34C276.80 351.83 278.90 351.76 281.00 352.18C283.11 352.60 284.86 353.23 287.31 353.86C289.76 354.49 292.91 355.44 295.72 355.96C298.52 356.49 301.67 356.59 304.13 357.01C306.58 357.43 308.68 357.96 310.43 358.48C312.18 359.01 313.94 359.88 314.64 360.17" stroke="#000000" stroke-width="2.1" fill="none" stroke-linejoin="round" stroke-linecap="round"/>
<polyline points="392.51,304.21 392.76,306.50 393.01,308.15 393.26,309.72 393.51,311.85 393.76,313.11 394.02,314.79 394.18,313.50 394.35,311.72 394.52,309.89 394.68,308.76 394.85,306.72 395.02,305.03 395.18,303.58 395.35,301.46 395.52,299.92 395.76,298.22 396.00,296.76 396.24,294.54 396.48,292.90 396.72,291.32 396.87,292.55 397.02,294.71 397.17,296.28 397.32,298.07 397.47,299.62 397.62,301.02 397.77,302.96 397.90,304.60 398.03,306.54 398.15,307.75 398.28,309.52 398.40,311.26 398.53,312.80 398.65,314.09 398.78,316.12 398.90,317.61 399.03,319.05 399.15,321.08 399.28,322.45 399.78,324.56 400.28,326.60 400.78,328.52 403.04,327.57 405.29,329.48 406.05,327.86 406.80,326.19 407.55,324.85 410.56,325.39 411.31,327.41 412.06,328.91 412.81,330.11 413.56,331.90 415.07,330.65 416.57,329.60 418.08,328.27 420.48,327.84 422.23,327.25 423.98,326.80 425.74,326.66 427.31,325.79 428.89,325.30 430.47,325.16 432.04,324.55 433.62,324.44 435.20,323.42 436.77,322.89 438.35,322.11 439.92,320.89 441.50,320.67 443.08,319.20 444.65,318.77 446.23,317.87 447.81,316.54 449.38,315.74 450.96,314.84 452.54,313.82 454.11,312.70 455.69,311.23 457.27,309.79 458.58,308.84 459.89,308.22 461.21,307.23 462.52,305.63 464.27,304.69 466.03,303.82 467.78,303.53 469.53,303.59 471.28,303.78 473.03,304.66 474.78,304.97 476.54,305.88 478.29,306.57 479.86,307.75 481.44,307.97 483.02,308.73 484.59,309.26 486.17,309.40 487.75,310.27 489.32,310.59 490.90,310.74 493.00,310.46 495.11,310.36 496.68,309.89 498.26,309.25 499.83,308.28 501.41,308.00 502.99,307.01 504.56,306.22 506.14,305.89 507.72,305.20 509.29,304.46 510.87,303.93 512.45,304.00 514.02,302.90 516.13,303.40 518.23,304.70 520.33,304.36 522.43,303.86 524.53,304.02 525.63,304.90 526.72,306.34 527.81,308.03 528.91,309.81 530.00,310.76 530.77,312.51 531.54,314.82 532.31,316.22 533.36,318.02 534.41,319.32 535.46,320.43 536.51,321.58 538.09,322.40 539.66,322.95 541.24,323.67 542.82,325.01 544.92,325.20 547.02,325.72 549.12,326.17 551.23,326.15 553.33,326.61 555.43,327.00 557.18,327.24 558.93,327.83 560.68,327.94 562.44,328.83 564.19,329.47 565.94,330.29 567.52,330.28 569.09,331.60 570.67,331.58 572.25,332.48 573.82,332.46 575.40,331.56 576.98,331.51 578.55,331.25 580.13,330.50 581.71,330.66 583.28,330.24 584.86,329.95 586.96,329.27 589.06,328.89 591.17,328.92 592.74,329.83 594.32,330.07 595.89,330.87 597.47,331.17 599.05,331.92 600.62,332.85 602.20,334.02 603.78,334.91 605.04,336.50 606.30,337.03 607.56,338.71 608.82,339.23 610.08,340.30 611.66,341.87 613.24,342.60 614.81,343.91 616.39,345.42 617.97,345.36 619.54,345.98 621.12,346.37 622.70,346.72 624.80,346.36 626.90,346.46 629.00,347.07 630.58,347.19 632.16,348.25 633.73,348.81 635.31,349.19 636.62,350.08 637.94,351.24 639.25,351.83 640.56,353.14 641.62,354.77 642.67,355.61 643.72,357.08 644.77,358.52 645.82,359.21 647.13,360.52 648.45,361.82 649.76,362.34 651.08,363.99 652.83,364.32 654.58,365.42 656.33,366.42 658.08,367.03 659.83,367.87 661.59,368.56 663.06,368.62 664.53,369.73 666.00,370.40" stroke="#1a801a" stroke-width="2.4" fill="none" stroke-linejoin="round" stroke-linecap="round"/>
<polyline points="392.51,318.00 393.26,319.48 394.02,321.14 394.27,319.51 394.52,317.67 394.77,316.11 395.02,313.82 395.27,312.15 395.52,310.61 395.67,308.62 395.82,306.84 395.97,305.50 396.12,303.31 396.27,301.79 396.42,299.70 396.57,298.38 396.72,296.57 396.85,298.15 396.98,300.09 397.12,301.47 397.25,303.10 397.38,305.39 397.51,306.67 397.64,308.63 397.77,310.48 397.90,312.02 398.03,313.93 398.15,315.81 398.28,317.03 398.40,318.57 398.53,320.72 398.65,322.08 398.78,323.51 398.90,325.51 399.03,327.07 399.15,328.52 399.28,329.94 400.03,332.00 400.78,332.96 401.91,334.22 403.04,336.51 403.79,334.60 404.54,332.81 405.29,330.88 406.05,329.33 406.80,327.51 407.55,326.59 410.56,327.45 411.50,328.58 412.44,330.39 413.38,331.56 414.32,333.21 415.57,331.71 416.82,331.15 418.08,329.97 419.80,328.95 421.53,327.54 423.28,326.89 425.04,326.51 426.79,326.60 428.54,325.69 430.29,324.99 432.04,324.30 433.62,323.70 435.20,322.65 436.77,322.55 438.35,321.24 439.92,320.51 441.50,319.36 443.08,318.12 444.65,317.78 446.23,316.20 447.81,314.95 449.38,314.17 450.96,313.24 452.22,312.13 453.48,310.87 454.74,310.09 456.01,309.00 457.27,307.60 458.58,306.80 459.89,305.20 461.21,303.67 462.52,302.56 464.27,301.23 466.03,300.16 467.78,299.26 469.53,299.13 471.28,299.64 473.03,299.78 474.78,300.63 476.54,301.68 478.29,302.87 479.86,303.72 481.44,305.29 483.02,305.73 484.59,306.77 486.17,307.29 487.75,307.36 489.32,308.35 490.90,308.43 493.00,308.28 495.11,308.26 496.68,307.74 498.26,307.06 499.83,306.18 501.41,306.03 502.99,305.10 504.56,304.00 506.14,303.50 507.72,302.28 509.47,301.92 511.22,301.22 512.97,300.46 514.72,300.87 516.48,301.38 518.23,301.32 519.98,301.48 521.73,301.44 523.48,301.69 524.57,303.25 525.66,303.74 526.74,305.62 527.83,306.19 528.91,307.74 530.00,308.64 530.58,310.67 531.15,312.39 531.73,314.10 532.31,315.60 533.71,316.49 535.11,318.29 536.51,319.44 538.09,319.84 539.66,320.41 541.24,321.41 542.82,322.13 544.92,321.67 547.02,321.97 549.12,321.69 551.23,322.17 553.33,321.99 555.43,322.72 557.53,323.44 559.63,324.81 561.04,325.94 562.44,326.65 563.84,327.89 565.94,328.74 568.04,329.94 570.14,330.73 572.25,331.92 573.82,332.29 575.40,333.53 576.98,333.84 578.55,334.40 580.65,334.66 582.76,334.27 584.86,334.90 586.96,334.86 589.06,335.26 591.17,335.34 592.74,335.76 594.32,336.66 595.89,336.98 597.47,338.21 599.05,338.94 600.62,340.74 602.20,341.13 603.78,342.79 605.04,343.64 606.30,345.15 607.56,346.78 608.82,347.45 610.08,348.97 611.35,350.22 612.61,351.12 613.87,352.07 615.13,353.16 616.39,354.22 618.49,354.30 620.59,354.55 622.70,354.99 624.80,354.78 626.90,354.94 629.00,354.59 630.58,355.31 632.16,355.96 633.73,356.71 635.31,357.24 636.62,358.22 637.94,359.44 639.25,360.69 640.56,361.90 641.88,363.36 643.19,364.76 644.51,366.33 645.82,367.22 647.13,368.26 648.45,369.55 649.76,370.26 651.08,371.76 652.83,372.31 654.58,372.75 656.33,372.81 658.43,373.36 660.53,373.81 662.64,374.51 664.32,374.36 666.00,374.61" stroke="#e3201b" stroke-width="2.4" fill="none" stroke-linejoin="round" stroke-linecap="round"/>
<polyline points="392.21,378.06 392.25,376.25 392.29,374.93 392.32,373.55 392.36,371.49 392.40,369.58 392.44,368.45 392.47,366.36 392.51,364.73 392.55,362.99 392.59,361.48 392.62,359.32 392.66,358.13 392.70,356.52 392.74,354.57 392.77,352.61 392.81,350.79 393.41,349.91 394.02,348.21 394.42,346.30 394.82,344.04 395.22,342.40 395.47,340.72 395.72,338.95 395.97,336.55 396.22,335.23 396.47,333.13 396.72,331.43 396.93,333.69 397.14,335.27 397.35,337.15 397.56,338.73 397.77,340.84 398.28,342.30 398.78,344.51 399.28,346.87 400.03,349.18 400.78,350.80 401.91,352.34 403.04,354.40 403.79,352.30 404.54,350.34 405.29,349.04 407.17,348.14 409.05,346.33 410.56,347.40 412.06,349.14 413.19,350.44 414.32,351.87 416.20,350.74 418.08,349.69 419.93,349.09 421.78,349.56 423.63,349.24 425.21,348.72 426.79,347.86 428.36,347.37 429.94,346.33 431.52,345.44 433.09,344.97 434.67,344.12 436.25,343.34 437.82,342.96 439.40,341.77 440.98,341.14 442.55,340.16 443.81,339.16 445.08,337.53 446.34,336.50 447.60,335.06 448.86,333.62 450.12,332.83 451.38,331.30 452.64,329.82 453.90,327.99 455.17,327.04 456.43,325.23 457.69,324.23 458.95,322.94 460.21,320.99 461.47,319.77 463.05,318.80 464.62,317.65 466.20,316.81 467.78,315.75 469.88,315.50 471.98,315.49 474.08,314.96 475.66,315.58 477.24,316.25 478.81,316.55 480.39,317.74 481.97,318.27 483.54,318.91 485.12,319.83 486.70,320.31 488.27,320.69 489.85,321.22 491.43,321.76 493.00,322.30 494.58,321.53 496.16,321.32 497.73,321.25 499.31,320.78 500.89,320.14 502.46,319.36 504.04,317.97 505.62,317.07 507.19,316.94 508.77,315.80 510.35,315.18 511.92,314.86 514.02,315.02 516.13,314.83 517.70,315.49 519.28,315.62 520.86,315.80 522.43,316.57 524.53,317.20 526.64,318.36 527.48,320.30 528.32,321.64 529.16,323.51 530.00,324.65 530.67,326.69 531.34,327.53 532.01,329.55 532.69,330.78 533.36,332.33 534.67,333.68 535.98,334.74 537.30,335.27 538.61,336.42 540.71,336.85 542.82,336.81 544.92,337.44 547.02,337.01 549.12,337.08 551.23,337.12 552.80,337.74 554.38,338.37 555.95,338.64 557.53,338.57 559.28,340.14 561.04,340.91 562.79,341.67 564.54,342.12 566.29,342.98 568.04,343.73 569.62,344.37 571.20,345.31 572.77,345.42 574.35,346.58 575.92,347.32 577.50,347.11 579.08,348.12 580.65,348.25 582.76,348.36 584.86,349.21 586.96,349.22 589.06,348.84 591.17,348.21 593.27,348.13 594.84,348.42 596.42,349.14 598.00,350.57 599.57,351.29 600.83,352.13 602.10,353.52 603.36,354.36 604.62,355.30 605.88,356.06 607.46,357.15 609.03,358.02 610.61,359.43 612.19,360.14 613.76,361.20 615.34,361.42 616.92,361.66 618.49,361.64 620.59,361.67 622.70,361.57 624.80,360.81 626.38,360.95 627.95,359.84 629.53,359.75 631.11,358.70 632.86,359.19 634.61,360.01 636.36,360.07 637.67,361.06 638.99,361.96 640.30,363.17 641.62,363.84 642.93,365.20 644.24,366.72 645.56,368.06 646.87,369.43 648.62,370.19 650.37,371.58 652.13,372.42 653.70,372.95 655.28,372.88 656.86,373.42 658.43,373.46 660.32,373.82 662.22,374.16 664.11,374.20 666.00,374.40" stroke="#000000" stroke-width="2.4" fill="none" stroke-linejoin="round" stroke-linecap="round"/>
<polyline points="392.51,333.50 393.26,335.09 394.02,337.23 394.32,336.01 394.62,334.08 394.92,332.33 395.22,330.02 395.52,328.89 395.76,326.97 396.00,325.45 396.24,323.65 396.48,322.08 396.72,319.96 396.90,322.34 397.07,323.49 397.25,325.58 397.42,327.19 397.60,328.26 397.77,329.87 397.91,331.94 398.05,333.01 398.18,335.19 398.32,336.67 398.46,338.35 398.59,339.86 398.73,341.41 398.87,343.08 399.00,344.61 399.14,346.79 399.28,348.17 400.03,350.65 400.78,352.28 401.91,354.10 403.04,355.77 403.60,354.43 404.17,352.69 404.73,351.15 405.29,349.49 406.80,348.63 408.30,347.39 410.56,348.06 411.56,349.51 412.56,350.88 413.56,352.43 415.07,352.17 416.57,351.53 418.08,350.50 419.93,349.71 421.78,350.10 423.63,349.64 425.21,348.96 426.79,348.40 428.36,347.93 429.94,347.27 431.52,346.68 433.09,345.73 434.67,345.40 436.25,344.81 437.82,343.54 439.40,342.93 440.98,342.07 442.55,341.25 443.81,339.53 445.08,338.31 446.34,337.42 447.60,336.58 448.86,335.69 450.12,333.55 451.38,332.22 452.64,331.05 453.90,329.71 455.17,327.98 456.43,327.13 457.69,325.29 458.95,323.70 460.21,322.58 461.47,321.46 463.05,320.50 464.62,319.48 466.20,318.07 467.78,317.31 469.88,317.53 471.98,317.10 474.08,316.94 475.66,317.36 477.24,317.96 478.81,317.98 480.39,318.45 481.97,318.99 483.54,320.10 485.12,320.65 486.70,321.68 488.27,322.43 489.85,322.55 491.43,322.91 493.00,323.18 494.58,322.87 496.16,322.09 497.73,322.16 499.31,321.55 500.89,320.68 502.46,319.75 504.04,319.23 505.62,318.55 507.19,317.58 508.77,317.42 510.35,316.21 511.92,315.93 514.02,316.16 516.13,316.02 517.70,315.78 519.28,316.97 520.86,316.79 522.43,317.28 524.53,318.16 526.64,319.35 527.48,321.39 528.32,322.30 529.16,324.07 530.00,325.91 530.67,326.95 531.34,328.89 532.01,330.02 532.69,331.41 533.36,333.08 535.11,334.48 536.86,335.55 538.61,336.56 540.19,337.31 541.77,337.30 543.34,337.32 544.92,338.38 547.02,338.23 549.12,338.28 551.23,338.23 553.33,338.82 555.43,339.13 557.53,339.35 559.28,340.34 561.04,341.33 562.79,342.24 564.54,343.18 566.29,343.60 568.04,344.18 569.62,344.99 571.20,345.17 572.77,345.79 574.35,346.71 575.92,346.77 577.50,347.49 579.08,348.09 580.65,348.39 582.76,348.34 584.86,348.64 586.96,349.18 589.06,348.29 591.17,348.17 593.27,348.02 594.84,348.59 596.42,349.11 598.00,350.48 599.57,351.03 600.83,352.46 602.10,353.53 603.36,354.01 604.62,355.66 605.88,355.94 607.46,357.20 609.03,358.75 610.61,359.10 612.19,360.18 613.76,361.11 615.34,361.79 616.92,361.99 618.49,362.64 620.59,362.42 622.70,361.90 624.80,361.92 626.38,360.90 627.95,360.91 629.53,359.90 631.11,359.56 632.86,359.47 634.61,359.96 636.36,360.91 637.67,361.63 638.99,363.01 640.30,363.98 641.62,364.88 642.93,366.06 644.24,367.26 645.56,368.45 646.87,369.68 648.62,371.41 650.37,371.95 652.13,373.50 654.23,373.39 656.33,374.08 658.43,373.81 660.32,374.11 662.22,374.63 664.11,374.52 666.00,374.82" stroke="#1010e0" stroke-width="2.4" fill="none" stroke-linejoin="round" stroke-linecap="round"/>
</svg></body></html>
